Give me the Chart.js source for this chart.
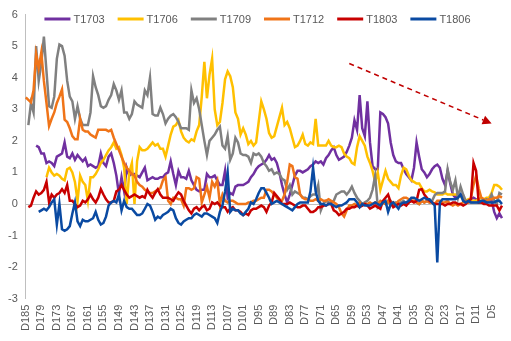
<!DOCTYPE html>
<html>
<head>
<meta charset="utf-8">
<script src="https://cdn.jsdelivr.net/npm/chart.js@4.4.0/dist/chart.umd.min.js"></script>
<style>
    html, body { margin: 0; padding: 0; background: #fff; }
    #wrap { width: 511px; height: 341px; position: relative; }
</style>
</head>
<body>
<div id="wrap"><canvas id="lineChart"></canvas></div>
<script>
// categories D185 ... D1
const categories = [];
for (let d = 185; d >= 1; d--) categories.push('D' + d);

const seriesNames = ['T1703', 'T1706', 'T1709', 'T1712', 'T1803', 'T1806'];

const t1703 = [
    null, null, null, null, 1.85, 1.8,
    1.6, 1.6, 1.3, 1.35, 1.3, 1.2,
    1.5, 1.55, 1.6, 1.95, 1.5, 1.45,
    1.6, 1.4, 1.55, 1.45, 1.35, 1.45,
    1.2, 1.25, 1.2, 1.15, 1.2, 1.6,
    1.3, 1.2, 1.5, 1.6, 1.3, 0.9,
    0.3, 0.85, 0.4, 1.15, 0.9, 0.95,
    0.95, 0.9, 0.85, 1.0, 1.15, 0.75,
    0.8, 0.85, 0.8, 0.8, 0.85, 0.85,
    0.95, 1.0, 1.35, 0.95, 0.6, 1.05,
    0.85, 0.85, 0.8, 1.05, 0.75, 0.6,
    0.45, 0.4, 0.45, 0.45, 0.95, 0.85,
    0.85, 0.9, 0.75, 0.6, 0.6, 1.05,
    0.2, 0.35, 0.3, 0.55, 0.6, 0.6,
    0.6, 0.65, 0.7, 0.85, 0.95, 1.1,
    1.2, 1.25, 1.3, 1.4, 1.55, 1.4,
    1.45, 1.3, 1.0, 0.6, 0.3, 0.05,
    0.3, 0.6, 0.9, 1.05, 1.05, 1.0,
    1.05, 1.1, 1.2, 1.25, 1.35, 1.3,
    1.35, 1.25, 1.45, 1.55, 1.7, 1.8,
    1.55, 1.4, 1.45, 1.5, 1.65, 1.85,
    2.1, 2.65, 2.35, 3.45, 2.4, 2.15,
    3.25, 1.95, 1.2, 1.1, 1.1, 2.9,
    2.85, 2.75, 2.55, 1.95, 1.55, 1.35,
    1.3, 1.3, 1.1, 0.95, 0.85, 0.75,
    1.15, 1.95, 1.5, 1.1, 1.0, 0.85,
    0.95, 1.1, 1.2, 1.25, 1.15, 0.8,
    0.6, 1.05, 0.65, 0.3, 0.2, 0.35,
    0.3, 0.2, 0.1, 0.1, 0.15, 0.2,
    0.15, 0.1, 0.05, 0.05, 0.05, 0.1,
    0.1, -0.25, -0.45, -0.3, -0.45
];

const t1706 = [
    null, null, null, null, null, null,
    null, null, 0.85, 1.15, 1.0, 0.9,
    0.95, 0.9, 0.8, 0.75, 1.1, 1.15,
    1.0, 0.7, 0.1, 0.9, 0.7, 0.6,
    0.1, 0.85, 0.85, 0.95, 1.1, 1.3,
    1.4, 1.55, 1.7, 1.8, 1.95, 1.75,
    1.8, 1.55, 1.15, 0.0, 1.0, 1.3,
    0.0, 1.35, 1.8, 1.7, 1.7, 1.75,
    1.85, 1.95, 1.85, 1.9, 1.75, 1.75,
    1.5, 1.85, 2.2, 2.45, 2.5, 2.65,
    2.3, 2.1, 2.0, 1.95, 2.05, 2.0,
    2.3, 2.5, 3.4, 4.5, 3.35, 4.1,
    4.6, 3.0, 2.5, 2.6, 3.2, 3.95,
    4.2, 4.05, 3.7, 2.9, 2.7, 2.2,
    2.4, 2.2, 1.9, 2.0, 1.85, 1.95,
    2.6, 3.25, 3.0, 2.7, 2.25, 2.1,
    2.15, 2.45, 2.75, 3.05, 2.5, 2.6,
    2.4, 2.1, 1.8, 1.85, 2.0, 2.2,
    1.9, 1.85, 1.95, 1.9, 2.7, 1.85,
    1.85, 1.85, 1.85, 2.0, 1.85, 1.8,
    1.8, 1.85, 1.8, 1.6, 1.5, 1.45,
    1.3, 1.25, 1.8, 2.15, 2.0, 1.85,
    1.5, 1.3, 1.05, 0.7, 1.0, 0.45,
    0.75, 1.05, 0.8, 0.7, 0.6, 0.6,
    0.5, 0.9, 1.15, 1.1, 0.9, 0.75,
    0.7, 0.65, 0.65, 0.5, 0.4, 0.4,
    0.45, 0.4, 0.37, 0.3, 0.3, 0.3,
    0.35, 0.3, 0.3, 0.3, 0.3, 0.3,
    0.25, 0.15, 0.1, 0.15, 0.1, 0.1,
    0.1, 0.15, 0.2, 0.15, 0.2, 0.2,
    0.35, 0.6, 0.6, 0.55, 0.45
];

const t1709 = [
    null, 2.5, 3.2, 2.9, 5.0, 3.9,
    4.45, 5.3, 4.2, 3.1, 3.05, 3.4,
    4.6, 5.05, 5.0, 4.7, 3.9, 3.4,
    3.25, 2.7, 3.1, 2.7, 2.5, 2.5,
    2.5, 2.9, 4.05, 3.7, 3.45, 3.1,
    3.05, 3.1, 3.3, 3.45, 3.8, 3.6,
    3.3, 3.6, 2.9, 2.9, 2.7, 2.85,
    3.25, 3.15, 3.1, 3.05, 3.6, 3.45,
    4.0, 2.85, 2.8, 2.8, 3.05, 2.85,
    2.55, 2.7, 2.8, 2.85, 2.75, 2.6,
    2.4, 2.4, 2.4, 2.35, 3.6, 3.2,
    3.35, 3.0, 2.5, 2.0, 1.55, 2.0,
    2.1, 2.2, 2.35, 2.45, 1.85, 1.75,
    2.15, 1.4, 1.6, 2.1, 1.95, 1.6,
    1.55, 1.55, 1.5, 1.3, 1.6, 1.55,
    1.6, 1.5, 1.3, 1.2, 1.05, 1.1,
    0.95, 1.0, 0.95, 0.8, 0.75, 0.45,
    0.6, 0.3, 0.4, 0.35, 0.3, 0.2,
    0.2, 0.15, 0.25, 0.3, 0.3, 0.6,
    -0.2, 0.0, 0.1, 0.05, 0.05, 0.1,
    0.3, 0.35, 0.4, 0.4, 0.3, 0.4,
    0.55, 0.35, 0.2, 0.1, 0.0, 0.05,
    0.1, 0.2, 0.45, 0.9, -0.1, 0.0,
    0.05, 0.0, 0.05, 0.1, 0.0, 0.05,
    0.0, 0.05, 0.1, 0.0, 0.05, 0.1,
    0.1, 0.05, 0.0, 0.1, 0.05, 0.1,
    0.05, 0.1, 0.28, 0.35, 0.35, 0.35,
    0.4, 1.1, 0.7, 0.45, 0.75, 0.2,
    0.55, 0.3, 0.1, 0.05, 0.05, 0.05,
    0.05, 0.05, 0.05, 0.1, 0.15, 0.1,
    0.3, 0.1, 0.0, 0.35, 0.3
];

const t1712 = [
    3.38, 3.3, 3.22, 3.6, 4.75, 4.3,
    4.8, 3.9, 3.2, 2.47, 2.7, 2.9,
    3.2, 3.4, 3.63, 2.67, 2.6, 2.4,
    2.15, 2.05, 2.05, 2.7, 2.35, 2.3,
    2.3, 2.2, 2.15, 2.1, 2.35, 2.35,
    2.35, 2.35, 2.3, 2.35, 2.1, 1.9,
    1.7, 1.5, 1.3, 1.15, 1.05, 0.95,
    0.9, 0.7, 0.6, 0.55, 0.45, 0.4,
    0.35, 0.35, 0.4, 0.45, 0.5, 0.75,
    0.85, 0.1, 0.0, 0.2, 0.2, 0.15,
    0.15, -0.05, 0.5, 0.5, 0.45, 0.5,
    0.85, 0.8, 0.05, 0.3, 0.55, 0.2,
    0.7, 0.55, 0.75, 0.0, 0.3, 0.1,
    0.05, 0.1, 0.1, 0.05, 0.0, 0.0,
    0.0, 0.0, 0.05, 0.05, 0.1, 0.1,
    0.15, 0.2, 0.2, 0.45, 0.45, 0.4,
    0.3, 0.2, 0.1, 0.1, 0.3, 0.7,
    1.25, 1.2, 0.85, 0.8, 0.3, 0.2,
    0.15, 0.15, 0.1, 0.1, 0.15, 0.1,
    0.15, 0.1, 0.1, 0.15, 0.1, 0.05,
    0.0, -0.1, -0.3, -0.4, -0.2, -0.05,
    -0.05, 0.0, -0.05, 0.05, -0.05, 0.0,
    0.0, 0.05, 0.0, 0.05, 0.0, 0.1,
    0.05, 0.0, 0.1, -0.05, 0.05, 0.0,
    0.1, 0.15, 0.2, 0.2, 0.15, 0.1,
    0.1, 0.05, 0.0, 0.1, 0.05, 0.1,
    0.05, 0.05, 0.0, 0.1, 0.1, 0.05,
    0.05, 0.1, 0.0, -0.05, 0.0, -0.05,
    0.0, 0.05, 0.1, 0.05, 0.2, 0.6,
    0.9, 0.5, 0.2, 0.15, 0.1, 0.15,
    0.15, 0.2, 0.2, 0.25, 0.2
];

const t1803 = [
    null, -0.1, -0.05, 0.2, 0.4, 0.3,
    0.35, 0.45, 0.7, 0.05, 0.3, 0.2,
    0.3, 0.35, 0.47, 0.35, 0.6, 0.1,
    0.1, 0.0, -0.1, -0.05, 0.1, 0.05,
    0.15, 0.3, 0.15, 0.05, 0.2, 0.47,
    0.3, 0.15, 0.05, 0.05, 0.1, 0.4,
    0.45, 0.6, 0.45, 0.3, 0.2, 0.25,
    0.3, 0.25, 0.2, 0.25, 0.2, 0.45,
    0.3, 0.2, 0.35, 0.47, 0.3, 0.2,
    0.2, 0.2, 0.15, 0.1, 0.25, 0.37,
    0.3, 0.1, -0.05, -0.2, -0.3, -0.15,
    -0.1, -0.2, -0.1, -0.05, -0.2, -0.15,
    0.05, 0.0, 0.05, -0.05, -0.1, -0.1,
    -0.25, -0.15, -0.1, -0.2, -0.2, -0.25,
    -0.35, -0.3, -0.35, -0.2, -0.15, -0.15,
    -0.1, -0.05, -0.1, -0.25, -0.05, 0.05,
    0.35, 0.25, 0.15, 0.0, 0.0, 0.0,
    0.05, 0.0, -0.05, -0.1, -0.1, -0.05,
    -0.05, -0.15, -0.25, -0.25, -0.2, -0.1,
    -0.1, -0.05, -0.05, 0.0, 0.0, -0.2,
    -0.25, -0.35, -0.3, -0.25, -0.15, -0.15,
    -0.1, -0.1, -0.05, -0.1, -0.05, 0.0,
    -0.05, -0.15, -0.1, -0.05, -0.1, -0.15,
    0.1, 0.2, 0.3, 0.05, -0.1, -0.05,
    0.0, -0.05, 0.0, -0.05, 0.05, 0.1,
    0.05, 0.1, 0.45, 0.47, 0.3, 0.2,
    0.1, 0.05, 0.0, 0.0, 0.0, 0.0,
    -0.05, 0.0, 0.0, 0.05, 0.05, 0.0,
    0.0, -0.05, 0.0, 0.1, 0.15, 1.3,
    1.05, 0.05, 0.05, 0.0, 0.0, -0.05,
    -0.05, -0.05, -0.05, -0.2, -0.05
];

const t1806 = [
    null, null, null, null, null, -0.25,
    -0.2, -0.15, -0.2, -0.1, 0.05, 0.15,
    -0.65, 0.0, -0.8, -0.85, -0.8, -0.7,
    -0.3, 0.05, -0.55, -0.7, -0.5, -0.55,
    -0.55, -0.5, -0.45, -0.25, -0.5, -0.65,
    -0.6, -0.4, -0.05, 0.05, 0.1, 0.05,
    0.3, -0.2, 0.1, -0.1, -0.15, -0.15,
    -0.25, -0.35, -0.35, -0.3, -0.15, 0.0,
    -0.05, -0.25, -0.5, -0.4, -0.45, -0.35,
    -0.3, -0.25, -0.15, -0.2, -0.45, -0.6,
    -0.65, -0.55, -0.5, -0.45, -0.45, -0.35,
    -0.3, -0.35, -0.4, -0.3, -0.3, -0.35,
    -0.4, -0.45, -0.6, -0.25, -0.05, 0.4,
    1.0, -0.25, -0.15, -0.2, -0.2, -0.3,
    -0.35, -0.25, -0.15, 0.05, 0.0, 0.15,
    0.35, 0.5, 0.5, 0.35, 0.2, 0.0,
    0.05, 0.1, 0.05, 0.0, -0.05, -0.1,
    -0.15, -0.2, -0.1, 0.0, 0.05, 0.05,
    0.05, 0.05, 0.4, 1.15, 0.4, 0.1,
    0.0, 0.0, -0.05, 0.0, 0.0, -0.05,
    -0.1, -0.05, -0.05, 0.0, 0.05, 0.15,
    0.15, 0.15, 0.05, -0.1, 0.0, -0.05,
    -0.05, -0.05, 0.0, 0.05, 0.0, -0.05,
    0.05, 0.1, -0.25, 0.0, 0.05, -0.05,
    -0.15, 0.0, 0.05, 0.05, 0.1, 0.2,
    0.2, 0.15, 0.1, 0.15, 0.2, 0.15,
    0.15, 0.05, -0.05, -1.85, 0.05, 0.15,
    0.15, 0.15, 0.15, 0.15, 0.15, 0.2,
    0.3, 0.1, 0.05, 0.1, 0.05, 0.05,
    0.05, 0.05, 0.1, 0.1, 0.05, 0.05,
    0.05, 0.05, 0.1, 0.1, 0.0
];

const seriesValues = [t1703, t1706, t1709, t1712, t1803, t1806];
const seriesColors = ['#7030a0', '#ffc000', '#808080', '#f07418', '#c80000', '#0a4aa2'];

// dashed trend arrow, in data coordinates (category, value)
const trendFrom = ['D60', 4.45];
const trendTo = ['D5', 2.55];

const textColor = '#595959';
const fontFamily = '"Liberation Sans", Arial, sans-serif';

const topLegend = {
    id: 'topLegend',
    afterDraw(chart) {
        const c = chart.ctx;
        const lineW = 26, gap = 3, space = 13, y = 19;
        c.save();
        c.font = '11px ' + fontFamily;
        const items = chart.data.datasets.map(ds => ({
            ds: ds,
            w: lineW + gap + c.measureText(ds.label).width
        }));
        const total = items.reduce((s, it) => s + it.w, 0) + space * (items.length - 1);
        let x = chart.width / 2 + 2 - total / 2;
        items.forEach(it => {
            c.strokeStyle = it.ds.borderColor;
            c.lineWidth = 3;
            c.beginPath();
            c.moveTo(x, y);
            c.lineTo(x + lineW, y);
            c.stroke();
            c.fillStyle = textColor;
            c.textBaseline = 'middle';
            c.fillText(it.ds.label, x + lineW + gap, y + 1);
            x += it.w + space;
        });
        c.restore();
    }
};

const trendArrow = {
    id: 'trendArrow',
    afterDatasetsDraw(chart) {
        const xs = chart.scales.x, ys = chart.scales.y;
        const x1 = xs.getPixelForValue(categories.indexOf(trendFrom[0]));
        const y1 = ys.getPixelForValue(trendFrom[1]);
        const x2 = xs.getPixelForValue(categories.indexOf(trendTo[0]));
        const y2 = ys.getPixelForValue(trendTo[1]);
        const a = Math.atan2(y2 - y1, x2 - x1);
        const head = 9;
        const c = chart.ctx;
        c.save();
        c.strokeStyle = '#c00000';
        c.fillStyle = '#c00000';
        c.lineWidth = 1.5;
        c.setLineDash([5, 4]);
        c.beginPath();
        c.moveTo(x1, y1);
        c.lineTo(x2 - head * Math.cos(a), y2 - head * Math.sin(a));
        c.stroke();
        c.setLineDash([]);
        c.beginPath();
        c.moveTo(x2, y2);
        c.lineTo(x2 - head * Math.cos(a) + 4.5 * Math.sin(a), y2 - head * Math.sin(a) - 4.5 * Math.cos(a));
        c.lineTo(x2 - head * Math.cos(a) - 4.5 * Math.sin(a), y2 - head * Math.sin(a) + 4.5 * Math.cos(a));
        c.closePath();
        c.fill();
        c.restore();
    }
};

const ctx = document.getElementById('lineChart').getContext('2d');

new Chart(ctx, {
    type: 'line',
    data: {
        labels: categories,
        datasets: seriesNames.map((name, i) => ({
            label: name,
            data: seriesValues[i],
            borderColor: seriesColors[i],
            backgroundColor: seriesColors[i],
            borderWidth: 2.5,
            pointRadius: 0,
            tension: 0,
            fill: false,
            order: seriesNames.length - i
        }))
    },
    options: {
        responsive: true,
        maintainAspectRatio: false,
        animation: false,
        layout: { padding: { left: 0, right: 8, top: 0, bottom: 4 } },
        scales: {
            x: {
                grid: { display: false, drawTicks: false },
                border: { display: false },
                ticks: {
                    autoSkip: false,
                    maxRotation: 90,
                    minRotation: 90,
                    padding: 6,
                    color: textColor,
                    font: { size: 11, family: fontFamily },
                    callback: function (value, index) {
                        return index % 6 === 0 ? categories[index] : null;
                    }
                }
            },
            y: {
                min: -3,
                max: 6,
                grid: {
                    drawTicks: false,
                    color: c => (c.tick && c.tick.value === 0 ? '#bfbfbf' : 'rgba(0,0,0,0)')
                },
                border: { display: true, color: '#bfbfbf' },
                ticks: {
                    stepSize: 1,
                    padding: 8,
                    color: textColor,
                    font: { size: 11, family: fontFamily }
                }
            }
        },
        plugins: {
            legend: { display: false },
            tooltip: { enabled: false }
        }
    },
    plugins: [trendArrow, topLegend]
});
</script>
</body>
</html>
